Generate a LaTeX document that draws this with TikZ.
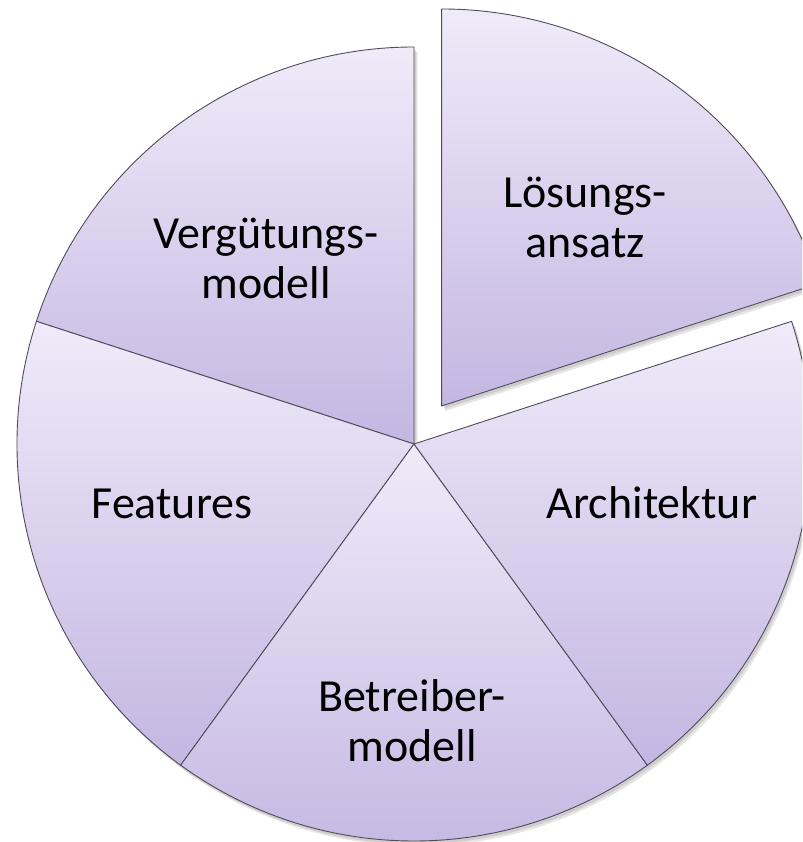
\documentclass[tikz,border=0pt]{standalone}
\usepackage{fontspec}
\setmainfont{Carlito}
\definecolor{segtop}{RGB}{239,235,249}
\definecolor{segbot}{RGB}{196,182,226}
\definecolor{segline}{RGB}{80,76,90}
\tikzset{
  seg/.style={top color=segtop, bottom color=segbot, draw=segline, line width=0.9pt, line join=round},
  segshadow/.style={fill=black, fill opacity=0.10, draw=none},
  lbl/.style={font=\fontsize{46}{50}\selectfont, align=center, anchor=base, inner sep=0pt, text=black}
}
\newcommand\pieshadow[3]{%
  \fill[segshadow] ([shift={(2pt,-3pt)}]#1) -- ++(#2:397pt) arc[start angle=#2, end angle=#3, radius=397pt] -- cycle;
  \fill[segshadow] ([shift={(3.5pt,-5pt)}]#1) -- ++(#2:397pt) arc[start angle=#2, end angle=#3, radius=397pt] -- cycle;}
\newcommand\pieseg[3]{%
  \path[seg] (#1) -- ++(#2:397pt) arc[start angle=#2, end angle=#3, radius=397pt] -- cycle;}
\begin{document}
\begin{tikzpicture}[x=1pt,y=1pt]
\useasboundingbox (0,0) rectangle (802,842);
\clip (0,0) rectangle (802,842);
\fill[white] (0,0) rectangle (802,842);
\coordinate (c) at (414,398);
\coordinate (e) at (441.6,436);
% shadows
\pieshadow{e}{18}{90}
\pieshadow{c}{90}{162}
\pieshadow{c}{162}{234}
\pieshadow{c}{234}{306}
\pieshadow{c}{306}{378}
% segments
\pieseg{c}{90}{162}
\pieseg{c}{162}{234}
\pieseg{c}{234}{306}
\pieseg{c}{306}{378}
\pieseg{e}{18}{90}
% labels (base = baseline of last line)
\node[lbl] (loes) at (585,584) {Lösungs-\\ansatz};
\node[lbl] (verg) at (266,543) {Vergütungs-\\modell};
\node[lbl] (arch) at (652,323) {Architektur};
\node[lbl] (feat) at (172,323) {Features};
\node[lbl] (betr) at (412,80) {Betreiber-\\modell};
\end{tikzpicture}
\end{document}
